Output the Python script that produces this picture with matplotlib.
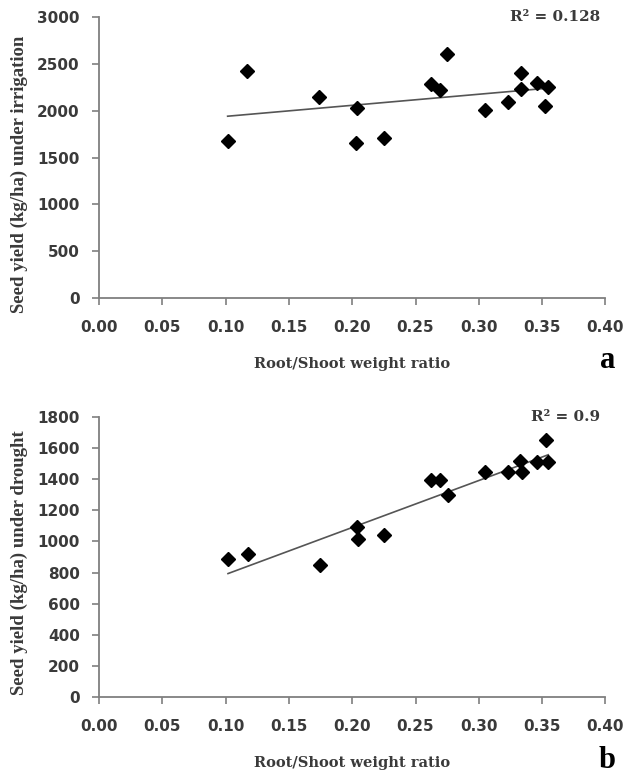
import matplotlib
matplotlib.use("Agg")
import matplotlib.pyplot as plt
import numpy as np

# root/shoot weight ratio of the genotypes
ratio = [0.1015, 0.117, 0.174, 0.204, 0.203, 0.225, 0.262, 0.269, 0.275,
         0.305, 0.323, 0.333, 0.3335, 0.3464, 0.3546, 0.3524]

# seed yield under irrigation (kg/ha)
yield_irr = [1680, 2429, 2144, 2026, 1659, 1709, 2287, 2222, 2604,
             2005, 2090, 2408, 2230, 2297, 2251, 2055]

ratio_b = [0.1018, 0.1173, 0.1743, 0.2036, 0.2046, 0.2251, 0.2626, 0.2695, 0.2755,
           0.3048, 0.3234, 0.3329, 0.3344, 0.3464, 0.3549, 0.3530]

# seed yield under drought (kg/ha)
yield_dro = [889, 919, 846, 1093, 1014, 1044, 1393, 1393, 1296,
             1444, 1444, 1515, 1446, 1511, 1511, 1650]

xticks = [0.00, 0.05, 0.10, 0.15, 0.20, 0.25, 0.30, 0.35, 0.40]
yticks_a = [0, 500, 1000, 1500, 2000, 2500, 3000]
yticks_b = [0, 200, 400, 600, 800, 1000, 1200, 1400, 1600, 1800]

gray = "#7f7f7f"
txt = "#3a3a3a"

fig = plt.figure(figsize=(6.24, 7.74), dpi=100)
ax_a = fig.add_axes([0.159, 0.6154, 0.811, 0.3622])
ax_b = fig.add_axes([0.159, 0.0995, 0.811, 0.3617])


def draw(ax, x, y, yticks, ylab, r2, letter, ly, laby):
    ax.plot(x, y, "D", color="black", markersize=7.5, zorder=3)
    k, b = np.polyfit(x, y, 1)  # linear trend line
    xs = np.array([min(x), max(x)])
    ax.plot(xs, k * xs + b, color="#555555", lw=1.2, zorder=2)

    ax.set_xlim(0, 0.40)
    ax.set_ylim(0, yticks[-1])
    ax.set_xticks(xticks)
    ax.set_xticklabels([f"{t:.2f}" for t in xticks])
    ax.set_yticks(yticks)
    for s in ["top", "right"]:
        ax.spines[s].set_visible(False)
    for s in ["left", "bottom"]:
        ax.spines[s].set_color(gray)
        ax.spines[s].set_linewidth(1.3)
    ax.tick_params(direction="out", length=5, width=1.2, color=gray,
                   labelcolor=txt, labelsize=11)
    for lab in ax.get_xticklabels() + ax.get_yticklabels():
        lab.set_fontweight("bold")
    ax.tick_params(axis="x", pad=11)
    ax.tick_params(axis="y", pad=9)

    ax.set_xlabel("Root/Shoot weight ratio", family="DejaVu Serif",
                  fontweight="bold", fontsize=10.5, color=txt, labelpad=16)
    ax.set_ylabel(ylab, family="Liberation Serif", fontweight="bold",
                  fontsize=13.5, color=txt)
    ax.yaxis.set_label_coords(-0.14, laby)
    ax.text(0.99, 1.0, r2, transform=ax.transAxes, ha="right", va="center",
            family="DejaVu Serif", fontweight="bold", fontsize=11, color=txt)
    ax.text(1.02, ly, letter, transform=ax.transAxes, ha="right",
            va="baseline", family="Liberation Serif", fontweight="bold",
            fontsize=22, color="black")


draw(ax_a, ratio, yield_irr, yticks_a, "Seed yield (kg/ha) under irrigation",
     "R² = 0.128", "a", -0.25, 0.44)
draw(ax_b, ratio_b, yield_dro, yticks_b, "Seed yield (kg/ha) under drought",
     "R² = 0.9", "b", -0.255, 0.48)

fig.savefig("out.png", dpi=100, facecolor="white")
